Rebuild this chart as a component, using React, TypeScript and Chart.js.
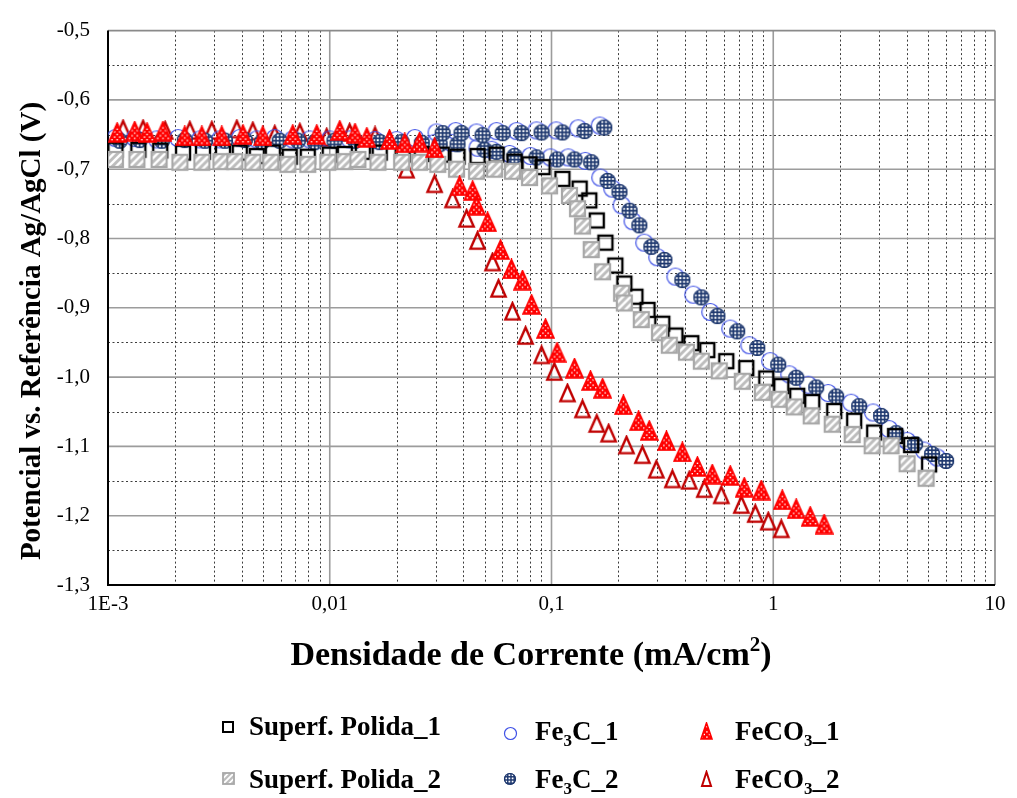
import { useEffect, useRef } from 'react';
import { Chart, registerables } from 'chart.js';

Chart.register(...registerables);

const SERIF = '"Liberation Serif", "Times New Roman", Times, serif';

// ---- axes ----
const xTickValues = [0.001, 0.01, 0.1, 1, 10];
const xTickLabels = ['1E-3', '0,01', '0,1', '1', '10'];
const yTickValues = [-1.3, -1.2, -1.1, -1.0, -0.9, -0.8, -0.7, -0.6, -0.5];
const yTickLabels = ['-1,3', '-1,2', '-1,1', '-1,0', '-0,9', '-0,8', '-0,7', '-0,6', '-0,5'];

// ---- Superf. Polida_1 : current density (mA/cm²) and potential (V) ----
const polida1Current = [
  0.00108, 0.00137, 0.00172, 0.00218, 0.00268, 0.0033, 0.00393, 0.00469, 0.00554, 0.0066,
  0.00796, 0.01, 0.0117, 0.0141, 0.0168, 0.0213, 0.026, 0.032, 0.0377, 0.0464,
  0.0565, 0.0681, 0.0796, 0.0911, 0.112, 0.134, 0.148, 0.16, 0.175, 0.194,
  0.213, 0.239, 0.271, 0.316, 0.362, 0.427, 0.504, 0.614, 0.756, 0.93,
  1.087, 1.283, 1.499, 1.883, 2.317, 2.851, 3.544, 4.184, 5.043,
];
const polida1Potential = [
  -0.672, -0.672, -0.673, -0.676, -0.675, -0.675, -0.676, -0.681, -0.676, -0.682,
  -0.682, -0.679, -0.678, -0.675, -0.676, -0.679, -0.678, -0.679, -0.682, -0.681,
  -0.679, -0.689, -0.693, -0.697, -0.714, -0.728, -0.745, -0.774, -0.806, -0.839,
  -0.865, -0.884, -0.903, -0.923, -0.94, -0.951, -0.961, -0.977, -0.987, -1.002,
  -1.013, -1.027, -1.036, -1.049, -1.063, -1.08, -1.085, -1.098, -1.126,
];

// ---- Superf. Polida_2 ----
const polida2Current = [
  0.00108, 0.00135, 0.0017, 0.00211, 0.00265, 0.00323, 0.00373, 0.0045, 0.00542, 0.00647,
  0.00796, 0.0098, 0.0117, 0.0134, 0.0165, 0.0211, 0.0254, 0.0307, 0.0373, 0.0459,
  0.0554, 0.0667, 0.0796, 0.098, 0.1205, 0.131, 0.138, 0.151, 0.17, 0.207,
  0.213, 0.254, 0.307, 0.34, 0.406, 0.474, 0.571, 0.725, 0.893, 1.064,
  1.243, 1.483, 1.845, 2.27, 2.793, 3.4, 4.014, 4.89,
];
const polida2Potential = [
  -0.686, -0.686, -0.686, -0.69, -0.69, -0.689, -0.689, -0.69, -0.69, -0.693,
  -0.693, -0.69, -0.689, -0.686, -0.69, -0.69, -0.69, -0.693, -0.7, -0.703,
  -0.7, -0.703, -0.712, -0.724, -0.738, -0.757, -0.782, -0.816, -0.848, -0.879,
  -0.893, -0.917, -0.936, -0.954, -0.964, -0.977, -0.991, -1.006, -1.022, -1.032,
  -1.043, -1.056, -1.068, -1.083, -1.099, -1.099, -1.125, -1.146,
];

// ---- Fe3C_1 ----
const fe3c1Current = [
  0.00108, 0.00132, 0.00166, 0.00207, 0.0026, 0.0032, 0.00393, 0.00469, 0.00565, 0.00681,
  0.00813, 0.01, 0.0123, 0.016, 0.02, 0.0242,
  0.0303, 0.037, 0.0459, 0.0565, 0.0696, 0.0856, 0.105, 0.132, 0.165,
  0.0297, 0.0354, 0.0464, 0.0537, 0.0647, 0.0804, 0.099, 0.119, 0.142, 0.166,
  0.188, 0.207, 0.232, 0.262, 0.3, 0.362, 0.436, 0.52, 0.64, 0.78,
  0.969, 1.181, 1.438, 1.769, 2.246, 2.82, 3.33, 4.014, 4.786, 5.481,
];
const fe3c1Potential = [
  -0.655, -0.655, -0.657, -0.655, -0.657, -0.657, -0.655, -0.657, -0.655, -0.657,
  -0.657, -0.657, -0.657, -0.658, -0.658, -0.655,
  -0.647, -0.645, -0.647, -0.645, -0.645, -0.644, -0.644, -0.641, -0.637,
  -0.662, -0.662, -0.669, -0.672, -0.678, -0.681, -0.683, -0.683, -0.688, -0.712,
  -0.728, -0.752, -0.775, -0.806, -0.827, -0.855, -0.881, -0.906, -0.93, -0.954,
  -0.977, -0.996, -1.011, -1.023, -1.037, -1.051, -1.075, -1.092, -1.106, -1.116,
];

// ---- Fe3C_2 ----
const fe3c2Current = [
  0.00113, 0.00139, 0.00175, 0.00222, 0.00274, 0.00337, 0.00414, 0.00494, 0.00595, 0.00718,
  0.00856, 0.0105, 0.013, 0.0168, 0.0211, 0.026,
  0.0313, 0.0377, 0.0499, 0.0565, 0.0681, 0.0856, 0.106, 0.127, 0.151, 0.179,
  0.2025, 0.225, 0.249, 0.282, 0.323, 0.389, 0.474, 0.56, 0.688, 0.847,
  1.053, 1.269, 1.562, 1.922, 2.44, 3.065, 3.582, 4.362, 5.203, 6.017,
  0.0323, 0.0393, 0.0489, 0.0602, 0.0733, 0.0902, 0.112, 0.141, 0.173,
];
const fe3c2Potential = [
  -0.659, -0.658, -0.659, -0.658, -0.659, -0.659, -0.658, -0.661, -0.659, -0.659,
  -0.661, -0.659, -0.659, -0.661, -0.661, -0.662,
  -0.664, -0.664, -0.672, -0.675, -0.681, -0.683, -0.686, -0.686, -0.69, -0.717,
  -0.733, -0.76, -0.781, -0.812, -0.831, -0.86, -0.885, -0.912, -0.934, -0.958,
  -0.982, -1.001, -1.015, -1.028, -1.042, -1.056, -1.081, -1.097, -1.111, -1.121,
  -0.648, -0.648, -0.651, -0.648, -0.648, -0.647, -0.647, -0.645, -0.64,
];

// ---- FeCO3_1 ----
const feco31Current = [
  0.0011, 0.00132, 0.0015, 0.00177, 0.00222, 0.00265, 0.00326, 0.00406, 0.00499, 0.00681,
  0.00874, 0.0111, 0.013, 0.0147, 0.0186, 0.0218, 0.0254, 0.0297, 0.0385, 0.0441,
  0.0459, 0.0515, 0.0589, 0.066, 0.074, 0.0813, 0.094, 0.106, 0.127, 0.15,
  0.17, 0.211, 0.247, 0.276, 0.33, 0.389, 0.455, 0.531, 0.64, 0.74,
  0.883, 1.098, 1.269, 1.468, 1.697,
];
const feco31Potential = [
  -0.647, -0.645, -0.647, -0.645, -0.652, -0.652, -0.652, -0.65, -0.652, -0.65,
  -0.65, -0.644, -0.648, -0.654, -0.657, -0.662, -0.661, -0.669, -0.724, -0.731,
  -0.752, -0.776, -0.816, -0.844, -0.86, -0.895, -0.93, -0.964, -0.987, -1.005,
  -1.016, -1.04, -1.063, -1.077, -1.092, -1.108, -1.129, -1.14, -1.142, -1.159,
  -1.163, -1.177, -1.19, -1.201, -1.212,
];

// ---- FeCO3_2 ----
const feco32Current = [
  0.00117, 0.00144, 0.00181, 0.00234, 0.00294, 0.00381, 0.0045, 0.00565, 0.00733, 0.00969,
  0.0123, 0.016, 0.0222, 0.0297, 0.0358, 0.0414, 0.0464, 0.0542, 0.0577, 0.0667,
  0.0764, 0.0902, 0.103, 0.118, 0.138, 0.16, 0.181, 0.218, 0.257, 0.297,
  0.351, 0.418, 0.489, 0.583, 0.718, 0.83, 0.95, 1.087,
];
const feco32Potential = [
  -0.642, -0.642, -0.644, -0.644, -0.644, -0.642, -0.645, -0.65, -0.647, -0.654,
  -0.647, -0.652, -0.7, -0.721, -0.743, -0.771, -0.803, -0.834, -0.872, -0.905,
  -0.94, -0.968, -0.992, -1.023, -1.046, -1.067, -1.081, -1.098, -1.112, -1.133,
  -1.147, -1.149, -1.161, -1.17, -1.184, -1.197, -1.208, -1.219,
];

type Seg = { text: string; shift?: 'sub' | 'sup' };

const xTitle: Seg[] = [{ text: 'Densidade de Corrente (mA/cm' }, { text: '2', shift: 'sup' }, { text: ')' }];
const yTitle: Seg[] = [{ text: 'Potencial vs. Referência Ag/AgCl (V)' }];

const legendLabels: Seg[][] = [
  [{ text: 'Superf. Polida_1' }],
  [{ text: 'Superf. Polida_2' }],
  [{ text: 'Fe' }, { text: '3', shift: 'sub' }, { text: 'C_1' }],
  [{ text: 'Fe' }, { text: '3', shift: 'sub' }, { text: 'C_2' }],
  [{ text: 'FeCO' }, { text: '3', shift: 'sub' }, { text: '_1' }],
  [{ text: 'FeCO' }, { text: '3', shift: 'sub' }, { text: '_2' }],
];

// ---- marker sprites ----
function sprite(w: number, h: number, draw: (ctx: CanvasRenderingContext2D) => void) {
  const c = document.createElement('canvas');
  c.width = w;
  c.height = h;
  draw(c.getContext('2d') as CanvasRenderingContext2D);
  return c;
}

function openSquare(side: number, lw: number) {
  const p = Math.ceil(lw);
  return sprite(side + 2 * p, side + 2 * p, (ctx) => {
    ctx.strokeStyle = '#000';
    ctx.lineWidth = lw;
    ctx.strokeRect(p, p, side, side);
  });
}

function hatchedSquare(side: number, lw: number) {
  const p = Math.ceil(lw);
  return sprite(side + 2 * p, side + 2 * p, (ctx) => {
    ctx.fillStyle = '#bdbdbd';
    ctx.fillRect(p, p, side, side);
    ctx.save();
    ctx.beginPath();
    ctx.rect(p, p, side, side);
    ctx.clip();
    ctx.strokeStyle = '#ffffff';
    ctx.lineWidth = Math.max(1.4, side * 0.16);
    const step = side * 0.5;
    for (let k = -side; k <= side * 2; k += step) {
      ctx.beginPath();
      ctx.moveTo(p + k, p + side);
      ctx.lineTo(p + k + side, p);
      ctx.stroke();
    }
    ctx.restore();
    ctx.strokeStyle = '#a8a8a8';
    ctx.lineWidth = lw;
    ctx.strokeRect(p, p, side, side);
  });
}

function openCircle(d: number, lw: number) {
  const s = Math.ceil(d + lw + 1);
  return sprite(s, s, (ctx) => {
    ctx.beginPath();
    ctx.arc(s / 2, s / 2, d / 2, 0, Math.PI * 2);
    ctx.strokeStyle = '#3f51e6';
    ctx.lineWidth = lw;
    ctx.stroke();
  });
}

function gridCircle(d: number) {
  const s = Math.ceil(d + 2);
  return sprite(s, s, (ctx) => {
    const c = s / 2;
    const r = d / 2;
    ctx.beginPath();
    ctx.arc(c, c, r, 0, Math.PI * 2);
    ctx.fillStyle = '#1d376e';
    ctx.fill();
    ctx.save();
    ctx.clip();
    ctx.fillStyle = '#ffffff';
    const period = d > 13 ? 3.7 : 3.2;
    const cell = period * 0.55;
    for (let y = c - r + 1.3; y < c + r; y += period) {
      for (let x = c - r + 1.3; x < c + r; x += period) ctx.fillRect(x, y, cell, cell);
    }
    ctx.restore();
    ctx.beginPath();
    ctx.arc(c, c, r - 0.5, 0, Math.PI * 2);
    ctx.strokeStyle = '#1d376e';
    ctx.lineWidth = 1.2;
    ctx.stroke();
  });
}

function trianglePath(ctx: CanvasRenderingContext2D, w: number, h: number, m: number) {
  ctx.beginPath();
  ctx.moveTo(w / 2, m);
  ctx.lineTo(w - m, h - m);
  ctx.lineTo(m, h - m);
  ctx.closePath();
}

function dottedTriangle(w: number, h: number) {
  return sprite(w, h, (ctx) => {
    trianglePath(ctx, w, h, 1);
    ctx.fillStyle = '#ff0000';
    ctx.fill();
    ctx.save();
    ctx.clip();
    ctx.fillStyle = '#ffffff';
    const step = 2.6;
    let row = 0;
    for (let y = 4; y < h - 2; y += step, row++) {
      let col = 0;
      for (let x = 1; x < w - 1; x += step, col++) {
        if ((row + col) % 2 === 0) ctx.fillRect(x, y, 1.4, 1.4);
      }
    }
    ctx.restore();
    trianglePath(ctx, w, h, 1);
    ctx.strokeStyle = '#ff0000';
    ctx.lineWidth = 1.6;
    ctx.lineJoin = 'miter';
    ctx.stroke();
  });
}

function openTriangle(w: number, h: number, lw: number) {
  return sprite(w, h, (ctx) => {
    trianglePath(ctx, w, h, lw);
    ctx.strokeStyle = '#c00000';
    ctx.lineWidth = lw;
    ctx.lineJoin = 'miter';
    ctx.stroke();
  });
}

function pts(xs: number[], ys: number[]) {
  return xs.map((x, i) => ({ x, y: ys[i] }));
}

function drawSegments(
  ctx: CanvasRenderingContext2D,
  segs: Seg[],
  x: number,
  y: number,
  size: number,
  align: 'left' | 'center',
) {
  const small = Math.round(size * 0.62);
  const widths = segs.map((s) => {
    ctx.font = `bold ${s.shift ? small : size}px ${SERIF}`;
    return ctx.measureText(s.text).width;
  });
  const total = widths.reduce((a, b) => a + b, 0);
  let cx = align === 'center' ? x - total / 2 : x;
  ctx.textAlign = 'left';
  ctx.textBaseline = 'alphabetic';
  segs.forEach((s, i) => {
    ctx.font = `bold ${s.shift ? small : size}px ${SERIF}`;
    const dy = s.shift === 'sub' ? size * 0.22 : s.shift === 'sup' ? -size * 0.4 : 0;
    ctx.fillText(s.text, cx, y + dy);
    cx += widths[i];
  });
}

export default function App() {
  const ref = useRef<HTMLCanvasElement>(null);

  useEffect(() => {
    const canvas = ref.current;
    if (!canvas) return;

    const plotMarkers = [
      openSquare(14, 2.4),
      hatchedSquare(15, 2.2),
      openCircle(17, 1.2),
      gridCircle(16),
      dottedTriangle(19, 21),
      openTriangle(19, 21, 2.4),
    ];
    const legendMarkers = [
      openSquare(10, 2),
      hatchedSquare(11, 1.8),
      openCircle(12, 1.2),
      gridCircle(12),
      dottedTriangle(13, 18),
      openTriangle(13, 18, 2),
    ];
    // legend slots: [marker x, marker y, text x, text baseline]
    const legendSlots = [
      [228, 727, 249, 735],
      [228, 778, 249, 788],
      [510, 733, 535, 740],
      [510, 779, 535, 788],
      [706, 731, 735, 740],
      [706, 779, 735, 788],
    ];

    const frame = {
      id: 'frame',
      beforeDatasetsDraw(chart: any) {
        const { ctx, chartArea } = chart;
        const { left, right, top, bottom } = chartArea;
        const xs = chart.scales.x;
        const ys = chart.scales.y;
        const vline = (px: number) => {
          ctx.beginPath();
          ctx.moveTo(px, top);
          ctx.lineTo(px, bottom);
          ctx.stroke();
        };
        const hline = (py: number) => {
          ctx.beginPath();
          ctx.moveTo(left, py);
          ctx.lineTo(right, py);
          ctx.stroke();
        };
        ctx.save();
        ctx.strokeStyle = '#3c3c3c';
        ctx.lineWidth = 1;
        ctx.setLineDash([2, 2.5]);
        for (let d = 0; d < xTickValues.length - 1; d++) {
          for (let k = 2; k <= 9; k++) vline(Math.round(xs.getPixelForValue(xTickValues[d] * k)) + 0.5);
        }
        for (let i = 0; i < yTickValues.length - 1; i++) {
          const v = (yTickValues[i] + yTickValues[i + 1]) / 2;
          hline(Math.round(ys.getPixelForValue(v)) + 0.5);
        }
        ctx.setLineDash([]);
        ctx.strokeStyle = '#9c9c9c';
        ctx.lineWidth = 1.6;
        for (let i = 1; i < xTickValues.length - 1; i++) vline(xs.getPixelForValue(xTickValues[i]));
        for (let i = 1; i < yTickValues.length - 1; i++) hline(ys.getPixelForValue(yTickValues[i]));
        ctx.strokeStyle = '#8a8a8a';
        hline(top);
        vline(right);
        ctx.strokeStyle = '#000000';
        ctx.lineWidth = 2;
        ctx.beginPath();
        ctx.moveTo(left, top);
        ctx.lineTo(left, bottom);
        ctx.lineTo(right, bottom);
        ctx.stroke();
        ctx.restore();
      },
      afterDraw(chart: any) {
        const { ctx } = chart;
        ctx.save();
        ctx.fillStyle = '#000';
        drawSegments(ctx, xTitle, 531, 665, 34, 'center');
        ctx.save();
        ctx.translate(40, 331);
        ctx.rotate(-Math.PI / 2);
        drawSegments(ctx, yTitle, 0, 0, 29, 'center');
        ctx.restore();
        legendLabels.forEach((segs, i) => {
          const [mx, my, tx, ty] = legendSlots[i];
          const m = legendMarkers[i];
          ctx.drawImage(m, Math.round(mx - m.width / 2), Math.round(my - m.height / 2));
          drawSegments(ctx, segs, tx, ty, 27, 'left');
        });
        ctx.restore();
      },
    };

    const ds = (label: string, data: any[], marker: HTMLCanvasElement, order: number) => ({
      label,
      data,
      pointStyle: marker,
      pointRadius: 8,
      pointHoverRadius: 8,
      showLine: false,
      order,
    });

    const chart = new Chart(canvas, {
      type: 'scatter',
      data: {
        datasets: [
          ds('Superf. Polida_1', pts(polida1Current, polida1Potential), plotMarkers[0], 2),
          ds('Superf. Polida_2', pts(polida2Current, polida2Potential), plotMarkers[1], 1),
          ds('Fe3C_1', pts(fe3c1Current, fe3c1Potential), plotMarkers[2], 4),
          ds('Fe3C_2', pts(fe3c2Current, fe3c2Potential), plotMarkers[3], 3),
          ds('FeCO3_1', pts(feco31Current, feco31Potential), plotMarkers[4], 0),
          ds('FeCO3_2', pts(feco32Current, feco32Potential), plotMarkers[5], 5),
        ],
      },
      options: {
        responsive: false,
        maintainAspectRatio: false,
        animation: false,
        events: [],
        layout: { padding: { top: 18, right: 22, left: 0, bottom: 0 } },
        plugins: { legend: { display: false }, tooltip: { enabled: false } },
        scales: {
          x: {
            type: 'logarithmic',
            min: 0.001,
            max: 10,
            grid: { display: false, drawTicks: false },
            border: { display: false },
            afterBuildTicks: (scale: any) => {
              scale.ticks = xTickValues.map((value) => ({ value }));
            },
            afterFit: (scale: any) => {
              scale.height = 213;
            },
            ticks: {
              autoSkip: false,
              maxRotation: 0,
              padding: 7,
              color: '#000',
              font: { family: SERIF, size: 21 },
              callback: (value: any) => {
                const i = xTickValues.findIndex((v) => Math.abs(Math.log10(v) - Math.log10(Number(value))) < 1e-6);
                return i >= 0 ? xTickLabels[i] : '';
              },
            },
          },
          y: {
            type: 'linear',
            min: -1.3,
            max: -0.5,
            grid: { display: false, drawTicks: false },
            border: { display: false },
            afterBuildTicks: (scale: any) => {
              scale.ticks = yTickValues.map((value) => ({ value }));
            },
            afterFit: (scale: any) => {
              scale.width = 108;
            },
            ticks: {
              padding: 18,
              color: '#000',
              font: { family: SERIF, size: 21 },
              callback: (value: any) => {
                const i = yTickValues.findIndex((v) => Math.abs(v - Number(value)) < 1e-6);
                return i >= 0 ? yTickLabels[i] : '';
              },
            },
          },
        },
      },
      plugins: [frame],
    } as any);

    let alive = true;
    const fonts = (document as any).fonts;
    if (fonts && fonts.load) {
      Promise.all([
        fonts.load(`bold 27px ${SERIF}`),
        fonts.load(`21px ${SERIF}`),
      ]).then(() => {
        if (alive) chart.update();
      });
    }

    return () => {
      alive = false;
      chart.destroy();
    };
  }, []);

  return (
    <div style={{ position: 'absolute', left: 0, top: 0, width: 1017, height: 798, background: '#fff' }}>
      <canvas ref={ref} width={1017} height={798} style={{ display: 'block', width: 1017, height: 798 }} />
    </div>
  );
}
